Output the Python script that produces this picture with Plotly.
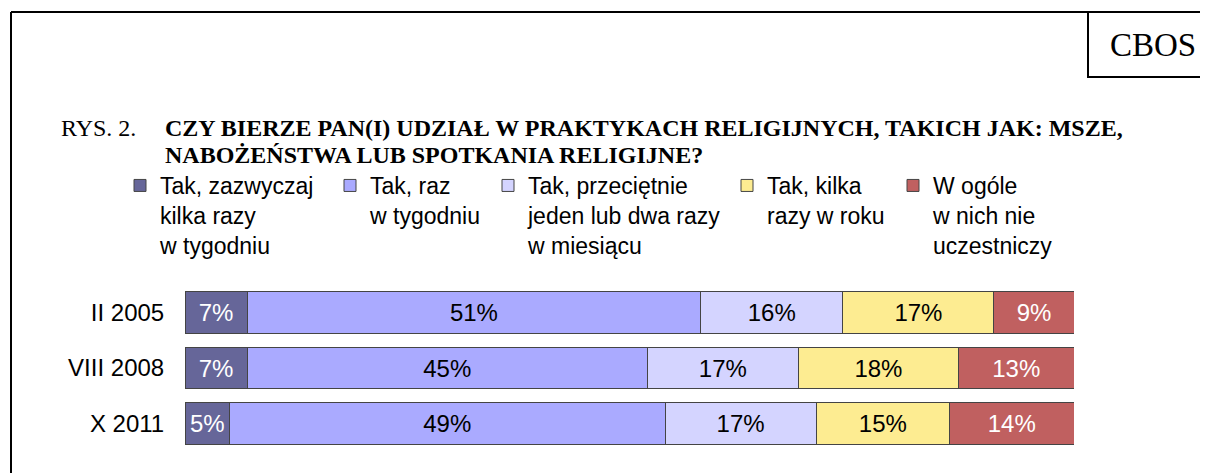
import plotly.graph_objects as go

# page is offset by the default 8px body margin
OFF = 8
W, H = 1208 - OFF, 473 - OFF

categories = ["II 2005", "VIII 2008", "X 2011"]
series_names = [
    "Tak, zazwyczaj<br>kilka razy<br>w tygodniu",
    "Tak, raz<br>w tygodniu",
    "Tak, przeciętnie<br>jeden lub dwa razy<br>w miesiącu",
    "Tak, kilka<br>razy w roku",
    "W ogóle<br>w nich nie<br>uczestniczy",
]
v_several_week = [7, 7, 5]
v_once_week = [51, 45, 49]
v_monthly = [16, 17, 17]
v_yearly = [17, 18, 15]
v_never = [9, 13, 14]
series_values = [v_several_week, v_once_week, v_monthly, v_yearly, v_never]

colors = ["#666699", "#AAAAFF", "#D4D4FF", "#FDEC91", "#C06060"]
text_colors = ["white", "black", "black", "black", "white"]

title_prefix = "RYS. 2."
title_line1 = "CZY BIERZE PAN(I) UDZIAŁ W PRAKTYKACH RELIGIJNYCH, TAKICH JAK: MSZE,"
title_line2 = "NABOŻEŃSTWA LUB SPOTKANIA RELIGIJNE?"
brand = "CBOS"

SANS = "Liberation Sans, Arial"
SERIF = "Liberation Serif, Times New Roman"


def px(x):
    return (x - OFF) / W


def py(y):
    return 1 - (y - OFF) / H


fig = go.Figure()
legend_ids = ["legend", "legend2", "legend3", "legend4", "legend5"]
legend_x = [120, 330, 488, 727, 893]

for i, (name, vals) in enumerate(zip(series_names, series_values)):
    fig.add_trace(go.Bar(
        y=categories, x=vals, name=name, orientation="h",
        marker=dict(color=colors[i], line=dict(color="#444444", width=1)),
        text=[f"{v}%" for v in vals], textposition="inside",
        insidetextanchor="middle", textangle=0, constraintext="none",
        textfont=dict(family=SANS, size=24, color=text_colors[i]),
        legend=legend_ids[i], showlegend=True,
    ))

layout_legends = {}
for i, lid in enumerate(legend_ids):
    layout_legends[lid] = dict(
        x=px(legend_x[i]), y=py(164), xanchor="left", yanchor="top",
        orientation="v", valign="top", bgcolor="rgba(0,0,0,0)", borderwidth=0,
        font=dict(family=SANS, size=23, color="black"),
        tracegroupgap=0,
    )

fig.update_layout(
    width=W, height=H,
    margin=dict(l=0, r=0, t=0, b=0),
    paper_bgcolor="white", plot_bgcolor="white",
    barmode="stack", bargap=0.26,
    xaxis=dict(domain=[px(185), px(1074)], range=[0, 100], visible=False, fixedrange=True),
    yaxis=dict(domain=[py(451.25), py(284.75)], autorange="reversed",
               showgrid=False, showline=False, zeroline=False,
               ticks="outside", ticklen=15, tickcolor="rgba(0,0,0,0)",
               tickfont=dict(family=SANS, size=24, color="black")),
    **layout_legends,
)

# frame and CBOS box
fig.add_shape(type="line", xref="paper", yref="paper", x0=px(11), x1=px(11), y0=py(12), y1=py(H + 20),
              line=dict(color="black", width=2))
fig.add_shape(type="line", xref="paper", yref="paper", x0=px(11), x1=px(1230), y0=py(12), y1=py(12),
              line=dict(color="black", width=2))
fig.add_shape(type="rect", xref="paper", yref="paper", x0=px(1088), x1=px(1230), y0=py(12), y1=py(77),
              line=dict(color="black", width=2))

fig.add_annotation(text=brand, xref="paper", yref="paper", x=px(1153), y=py(45),
                   xanchor="center", yanchor="middle", showarrow=False,
                   font=dict(family=SERIF, size=33, color="black"))
fig.add_annotation(text=title_prefix, xref="paper", yref="paper", x=px(59), y=py(128),
                   xanchor="left", yanchor="middle", showarrow=False,
                   font=dict(family=SERIF, size=24, color="black"))
for txt, yy in ((title_line1, 128), (title_line2, 155)):
    fig.add_annotation(text="<b>" + txt + "</b>", xref="paper", yref="paper", x=px(163), y=py(yy),
                       xanchor="left", yanchor="middle", align="left", showarrow=False,
                       font=dict(family=SERIF, size=24, color="black"))

fig.write_html("out.html")
